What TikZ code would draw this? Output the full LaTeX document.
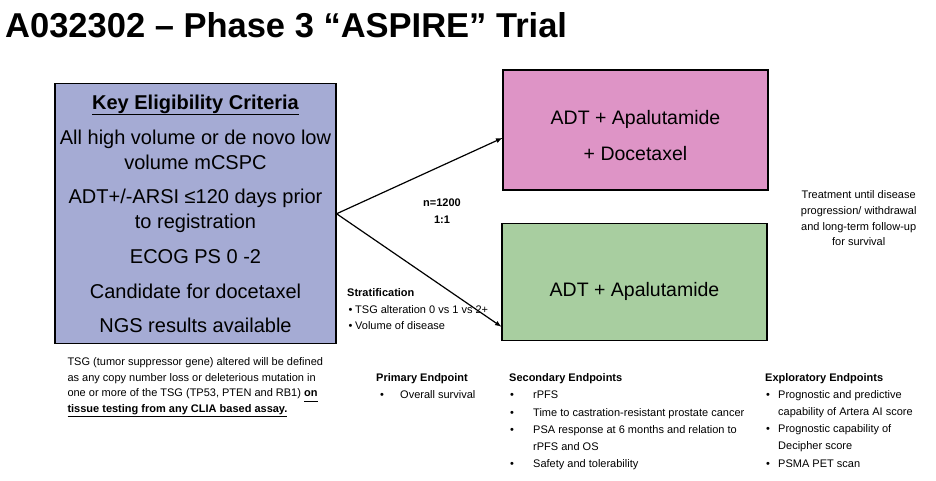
\documentclass[tikz,border=0pt]{standalone}
\usepackage{fontspec}
\setmainfont{Liberation Sans}
\usepackage{tikz}
\usetikzlibrary{shapes,arrows,positioning,calc}
\definecolor{critblue}{RGB}{165,171,212}
\definecolor{armpink}{RGB}{222,148,198}
\definecolor{armgreen}{RGB}{168,206,160}
\newcommand{\bul}[3][0pt]{\hspace*{#1}\makebox[#2][l]{\textbullet}#3}
\newcommand{\uln}[1]{\underline{#1\vphantom{g}}}

\begin{document}
\begin{tikzpicture}[x=1pt, y=-1pt,
    box/.style={draw, line width=1.2pt, inner sep=0pt},
    crit/.style={box, fill=critblue, minimum width=281pt, minimum height=260pt, align=center, font=\fontsize{20}{24.5}\selectfont},
    arm/.style={box, minimum width=265pt},
    armtxt/.style={align=center, inner sep=0pt, font=\fontsize{19.5}{35.5}\selectfont},
    note/.style={align=left, inner sep=0pt, anchor=north west, font=\fontsize{11}{17.2}\selectfont},
    link/.style={-latex, line width=1.2pt},
]
    \fill[white] (0,0) rectangle (936,480);
    \useasboundingbox (0,0) rectangle (936,480);
    % Title
    \node[anchor=base west, inner sep=0pt, font=\fontsize{34.5}{40}\selectfont\bfseries] (title) at (5,37) {A032302 – Phase 3 “ASPIRE” Trial};
    % Eligibility box
    \node[crit] (crit) at (195.5,213.75) {\textbf{\underline{Key Eligibility Criteria}}\\[11.1pt]
        All high volume or de novo low\\ volume mCSPC\\[10.3pt]
        ADT+/-ARSI ≤120 days prior\\ to registration\\[10.3pt]
        ECOG PS 0 -2\\[10.3pt]
        Candidate for docetaxel\\[10.3pt]
        NGS results available};
    % Treatment arms
    \node[arm, fill=armpink, minimum height=120pt] (armA) at (635.5,130) {};
    \node[armtxt] (armAtxt) at ([yshift=-5.6pt]armA.center) {ADT + Apalutamide\\+ Docetaxel};
    \node[arm, fill=armgreen, minimum height=117pt] (armB) at (634.5,281.7) {};
    \node[armtxt, anchor=base] (armBtxt) at ([yshift=-14.3pt]armB.center) {ADT + Apalutamide};
    % Randomisation
    \draw[link] (crit.east) -- ($(armA.west)+(0,8)$);
    \draw[link] (crit.east) -- ($(armB.west)+(0,45)$);
    \node[align=center, inner sep=0pt, anchor=north, font=\fontsize{11}{17.3}\selectfont\bfseries] (rand) at (442,198.7) {n=1200\\1:1};
    \node[note, font=\fontsize{11}{16.2}\selectfont] (strat) at (347,288.7) {\textbf{Stratification}\\
        \bul[1.5pt]{6.5pt}{TSG alteration 0 vs 1 vs 2+}\\
        \bul[1.5pt]{6.5pt}{Volume of disease}};
    % Footnote
    \node[note, font=\fontsize{11}{15.9}\selectfont] (tsg) at (67.3,357) {TSG (tumor suppressor gene) altered will be defined\\
        as any copy number loss or deleterious mutation in\\
        one or more of the TSG (TP53, PTEN and RB1) \textbf{\uln{on}}\\
        \textbf{\uln{tissue testing from any CLIA based assay.}}};
    % Follow-up
    \node[align=center, inner sep=0pt, anchor=north, font=\fontsize{11}{15.7}\selectfont] (follow) at (858.7,190.5) {Treatment until disease\\ progression/ withdrawal\\ and long-term follow-up\\ for survival};
    % Endpoints
    \node[note] (prim) at (376,373.5) {\textbf{Primary Endpoint}\\
        \bul[4pt]{20pt}{Overall survival}};
    \node[note] (sec) at (509,373.5) {\textbf{Secondary Endpoints}\\
        \bul[1pt]{23pt}{rPFS}\\
        \bul[1pt]{23pt}{Time to castration-resistant prostate cancer}\\
        \bul[1pt]{23pt}{PSA response at 6 months and relation to}\\
        \hspace*{24pt}rPFS and OS\\
        \bul[1pt]{23pt}{Safety and tolerability}};
    \node[note] (expl) at (765,373) {\textbf{Exploratory Endpoints}\\
        \bul[1pt]{12pt}{Prognostic and predictive}\\
        \hspace*{13pt}capability of Artera AI score\\
        \bul[1pt]{12pt}{Prognostic capability of}\\
        \hspace*{13pt}Decipher score\\
        \bul[1pt]{12pt}{PSMA PET scan}};
\end{tikzpicture}
\end{document}
